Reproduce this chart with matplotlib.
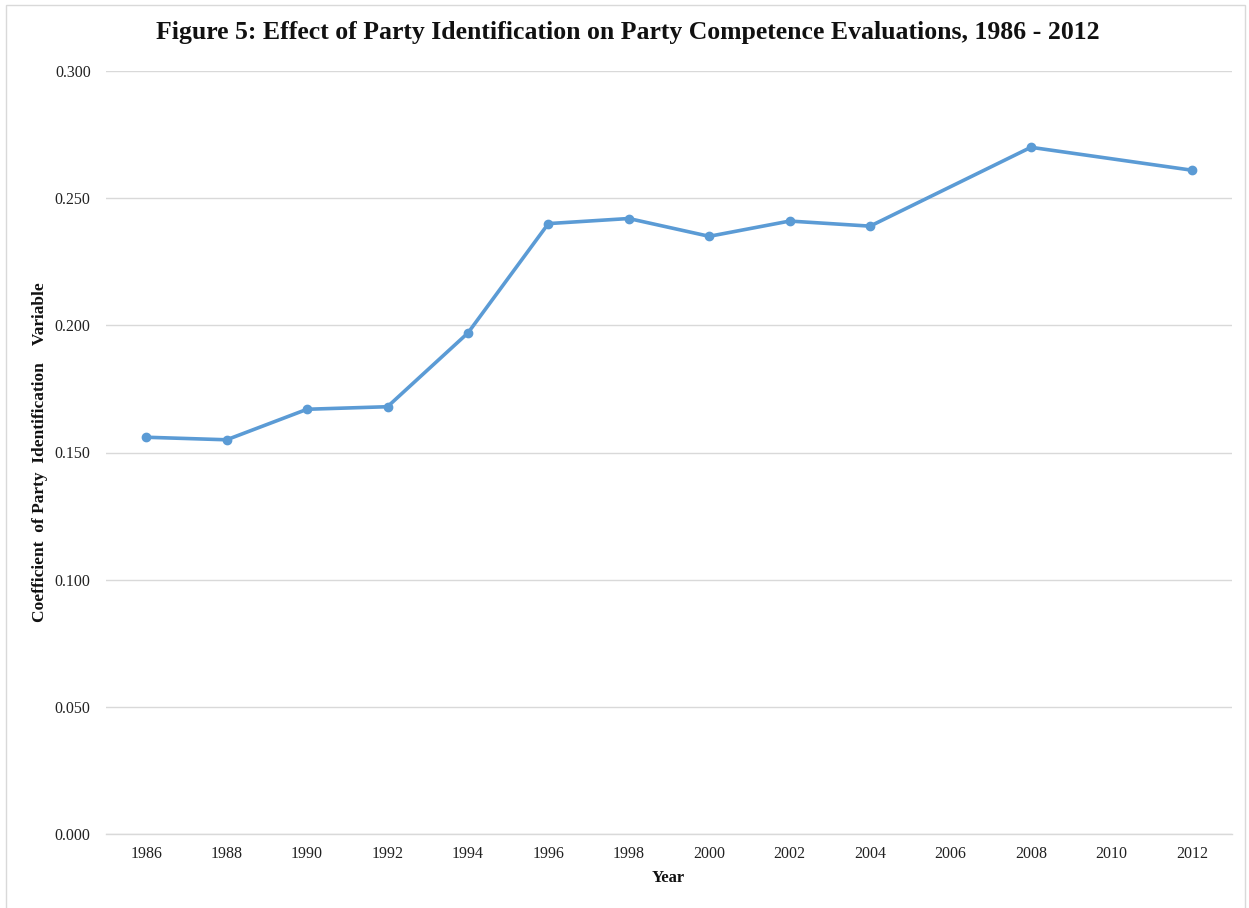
import numpy as np
import matplotlib
matplotlib.use("Agg")
import matplotlib.pyplot as plt
from matplotlib.patches import Rectangle

years = ["1986", "1988", "1990", "1992", "1994", "1996", "1998",
         "2000", "2002", "2004", "2006", "2008", "2010", "2012"]
coefficients = [0.156, 0.155, 0.167, 0.168, 0.197, 0.240, 0.242,
                0.235, 0.241, 0.239, np.nan, 0.270, np.nan, 0.261]
y_ticks = [0.000, 0.050, 0.100, 0.150, 0.200, 0.250, 0.300]

plt.rcParams["font.family"] = ["Liberation Serif", "DejaVu Serif"]

W, H = 1249, 908
fig = plt.figure(figsize=(W / 100, H / 100), dpi=100)
fig.patch.set_facecolor("white")

# light frame around the whole figure
fig.add_artist(Rectangle((6 / W, 0 - 0.01), (1245 - 6) / W, (H - 5) / H + 0.01,
                         transform=fig.transFigure, fill=False,
                         edgecolor="#d9d9d9", linewidth=1.0))

ax = fig.add_axes([106 / W, 1 - 834 / H, (1232 - 106) / W, (834 - 71) / H])

x = np.arange(len(years))
vals = np.array(coefficients, dtype=float)
ok = ~np.isnan(vals)
ax.plot(x[ok], vals[ok], color="#5b9bd5", linewidth=2.6, marker="o",
        markersize=6, solid_joinstyle="round", solid_capstyle="round", zorder=3)

ax.set_xlim(-0.5, len(years) - 0.5)
ax.set_ylim(0, 0.3)
ax.set_xticks(x)
ax.set_xticklabels(years)
ax.set_yticks(y_ticks)
ax.set_yticklabels([f"{v:.3f}" for v in y_ticks])
ax.tick_params(axis="both", length=0, labelsize=11.5, colors="#222222")
ax.tick_params(axis="x", pad=9)
ax.tick_params(axis="y", pad=11)
ax.yaxis.grid(True, color="#d9d9d9", linewidth=1.0)
ax.set_axisbelow(True)
for side in ["top", "right", "left"]:
    ax.spines[side].set_visible(False)
ax.spines["bottom"].set_color("#d9d9d9")
ax.spines["bottom"].set_linewidth(1.0)

fig.text(628 / W, 1 - 33 / H,
         "Figure 5: Effect of Party Identification on Party Competence Evaluations, 1986 - 2012",
         ha="center", va="center", fontsize=18.5, fontweight="bold", color="#111111")
fig.text(668 / W, 1 - 878 / H, "Year", ha="center", va="center",
         fontsize=12, fontweight="bold", color="#111111")
fig.text(40 / W, 1 - 452 / H, "Coefficient  of Party  Identification    Variable",
         ha="center", va="center", rotation=90, fontsize=12.5,
         fontweight="bold", color="#111111")

fig.savefig("out.png", dpi=100, facecolor="white")
